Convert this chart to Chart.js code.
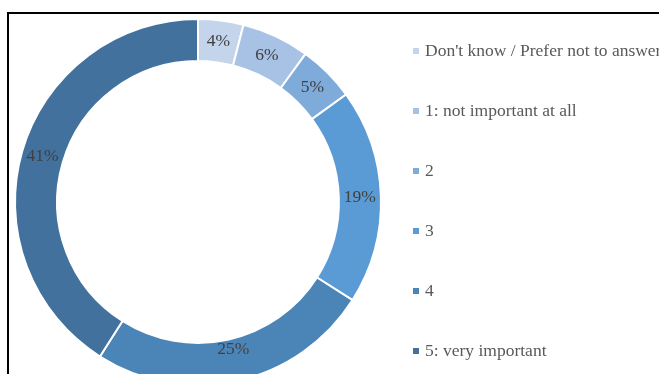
<!DOCTYPE html>
<html>
<head>
<meta charset="utf-8">
<script src="https://cdn.jsdelivr.net/npm/chart.js@4/dist/chart.umd.min.js"></script>
<style>
  html, body { margin: 0; padding: 0; background: #fff; overflow: hidden; }
  #wrap { position: relative; width: 659px; height: 374px; overflow: hidden; }
  #frame {
    position: absolute; left: 7px; top: 12px; width: 700px; height: 400px;
    border-top: 2px solid #000; border-left: 2px solid #000;
  }
  canvas { position: absolute; left: 0; top: 0; }
</style>
</head>
<body>
<div id="wrap">
  <div id="frame"></div>
  <canvas id="chart" width="659" height="400"></canvas>
</div>
<script>
// answer categories, in drawing order (clockwise from 12 o'clock)
const categories = [
  "Don't know / Prefer not to answer",
  '1: not important at all',
  '2',
  '3',
  '4',
  '5: very important'
];
// share of respondents, %
const shares = [4, 6, 5, 19, 25, 41];
const sliceColors = ['#c3d4eb', '#a7c2e4', '#7eabda', '#5b9bd5', '#4b85b8', '#41719c'];

const FONT = '"Liberation Serif", "Times New Roman", serif';

// percentage text in the middle of each ring segment
const sliceLabels = {
  id: 'sliceLabels',
  afterDatasetsDraw(chart) {
    const ctx = chart.ctx;
    const meta = chart.getDatasetMeta(0);
    ctx.save();
    ctx.font = '17.5px ' + FONT;
    ctx.fillStyle = '#404040';
    ctx.textAlign = 'center';
    ctx.textBaseline = 'middle';
    meta.data.forEach((arc, i) => {
      const p = arc.tooltipPosition();
      // keep labels inside the visible part of the page
      const y = Math.min(p.y, 349);
      ctx.fillText(shares[i] + '%', p.x, y);
    });
    ctx.restore();
  }
};

// vertical legend on the right, small square markers
const sideLegend = {
  id: 'sideLegend',
  afterDraw(chart) {
    const ctx = chart.ctx;
    ctx.save();
    ctx.font = '17.5px ' + FONT;
    ctx.textBaseline = 'middle';
    ctx.textAlign = 'left';
    categories.forEach((name, i) => {
      const y = 51 + i * 60;
      ctx.fillStyle = sliceColors[i];
      ctx.fillRect(413, y - 3, 6, 6);
      ctx.fillStyle = '#595959';
      ctx.fillText(name, 425, y);
    });
    ctx.restore();
  }
};

new Chart(document.getElementById('chart'), {
  type: 'doughnut',
  data: {
    labels: categories,
    datasets: [{
      data: shares,
      backgroundColor: sliceColors,
      borderColor: '#ffffff',
      borderWidth: 2
    }]
  },
  options: {
    responsive: false,
    animation: false,
    devicePixelRatio: 1,
    cutout: '77%',
    layout: { padding: { left: 14, top: 18, right: 277, bottom: 14 } },
    plugins: {
      legend: { display: false },
      tooltip: { enabled: false }
    }
  },
  plugins: [sliceLabels, sideLegend]
});
</script>
</body>
</html>
